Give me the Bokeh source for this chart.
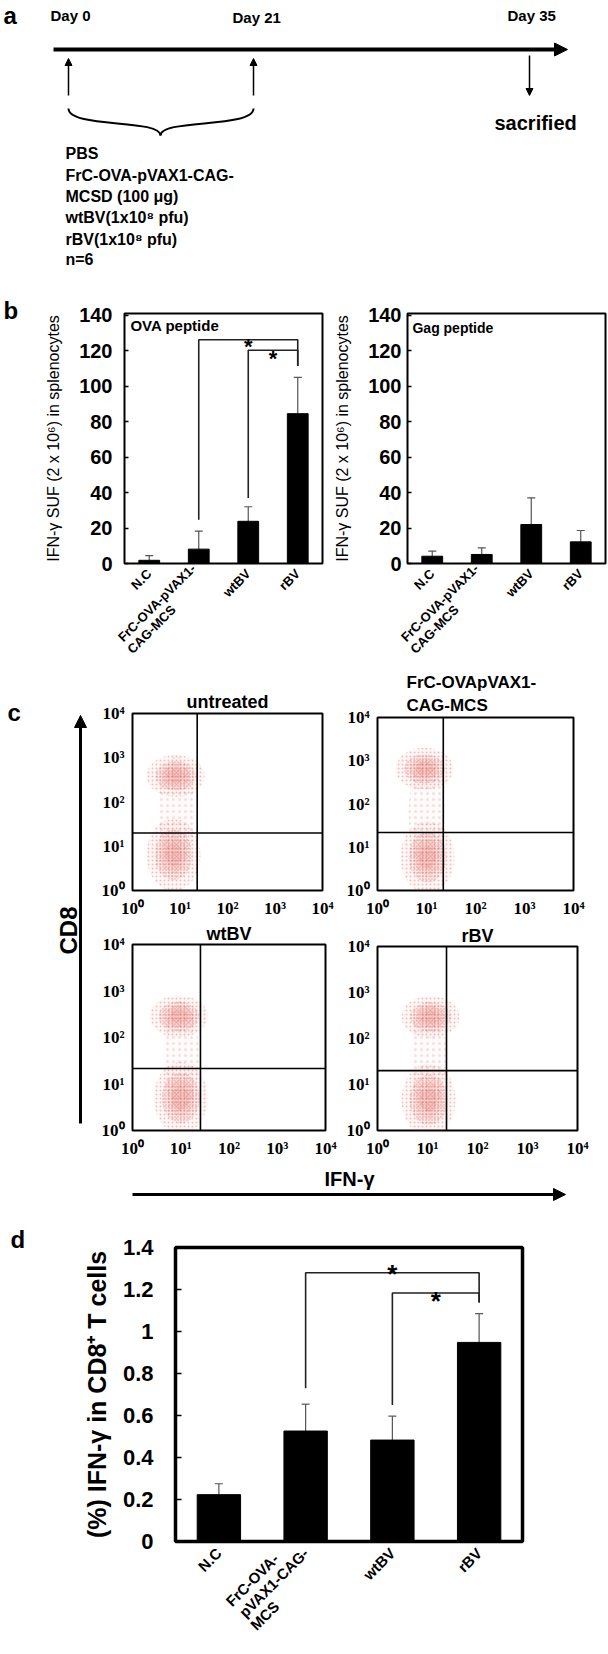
import math
from bokeh.plotting import figure
from bokeh.models import (Range1d, FactorRange, Arrow, NormalHead, Span, Title,
                          FixedTicker, CustomJSTickFormatter)
from bokeh.layouts import row, column
from bokeh.embed import file_html
from bokeh.resources import INLINE
from bokeh.core.properties import value

SANS = "Liberation Sans"
SERIF = "Liberation Serif"
NB = "\u00a0"   # non-breaking space: keeps multi-line tick labels left-aligned

# ---------------- data ----------------
timeline_labels = ["Day 0", "Day 21", "Day 35"]
treatment_lines = ["PBS", "FrC-OVA-pVAX1-CAG-", "MCSD (100 μg)",
                   "wtBV(1x10⁸ pfu)", "rBV(1x10⁸ pfu)", "n=6"]
endpoint_label = "sacrified"

groups_b = ["N.C", "FrC-OVA-pVAX1-\nCAG-MCS" + NB * 12, "wtBV", "rBV"]
groups_d = ["N.C", "FrC-OVA-" + NB * 6 + "\npVAX1-CAG-\nMCS" + NB * 14, "wtBV", "rBV"]

ova_mean = [1.8, 8.1, 23.8, 84.5]
ova_err = [2.6, 10.2, 8.2, 20.5]
gag_mean = [4.1, 5.1, 22.0, 12.2]
gag_err = [2.9, 3.7, 15.0, 6.4]
b_ticks = [0, 20, 40, 60, 80, 100, 120, 140]
b_ylabel = "IFN-γ SUF (2 x 10⁶) in splenocytes"
ova_title = "OVA peptide"
gag_title = "Gag peptide"

sig_from = [1, 2]          # group index where each bracket starts
sig_to = [3, 3]            # group index where each bracket ends
ova_sig_start = [24.7, 37.0]
ova_sig_top = [126.2, 120.3]
ova_sig_end = [111.4, 111.4]
ova_star_y = [129.5, 122.9]

cd8_mean = [0.223, 0.526, 0.483, 0.948]
cd8_err = [0.052, 0.128, 0.114, 0.137]
d_ticks = [0, 0.2, 0.4, 0.6, 0.8, 1.0, 1.2, 1.4]
d_ylabel = "(%) IFN-γ in CD8⁺ T cells"
cd8_sig_start = [0.73, 0.65]
cd8_sig_top = [1.28, 1.183]
cd8_sig_end = [1.138, 1.138]
cd8_star_y = [1.346, 1.218]

flow_titles = [["untreated"], ["FrC-OVApVAX1-", "CAG-MCS"], ["wtBV"], ["rBV"]]
flow_ticks = [1, 10, 100, 1000, 10000]
gate_x = [23, 22, 25.6, 24]
gate_y = [20, 22, 21.5, 20]
cd8hi_x = [8.1, 9.1, 9.1, 11.5]
cd8hi_y = [390, 650, 285, 295]
cd8lo_x = [7.3, 10.5, 10.0, 10.5]
cd8lo_y = [6.4, 5.9, 5.0, 4.6]
sparse_x = [8.5, 10.0, 10.0, 10.5]
sparse_y = [60, 60, 40, 40]
cd8_label = "CD8"
ifn_label = "IFN-γ"
panel_letters = ["a", "b", "c", "d"]


# ---------------- helpers ----------------
def make_fig(ox, oy, w, h, fl, fr, ft, fb, **kw):
    return figure(width=w, height=h, output_backend="svg", toolbar_location=None,
                  title=None, min_border_left=fl - ox, min_border_right=ox + w - fr,
                  min_border_top=ft - oy, min_border_bottom=oy + h - fb,
                  frame_align=False, align="start", **kw)


def canvas_fig(ox, oy, w, h):
    p = figure(width=w, height=h, frame_width=w, frame_height=h,
               output_backend="svg", toolbar_location=None, title=None,
               min_border=0, x_range=Range1d(ox, ox + w), y_range=Range1d(oy + h, oy),
               x_axis_location=None, y_axis_location=None, align="start",
               frame_align=False)
    p.outline_line_color = None
    p.grid.visible = False
    return p


def txt(p, xs, ys, texts, size, align="left", baseline="middle", style="bold",
        angle=0, font=SANS):
    p.text(x=xs, y=ys, text=texts, text_font=value(font), text_font_style=style,
           text_font_size=size, text_align=align, text_baseline=baseline,
           angle=angle, text_color="black")


def letter_title(p, letter, offset, standoff):
    p.add_layout(Title(text=letter, align="left", offset=offset, standoff=standoff,
                       text_font=SANS, text_font_style="bold", text_font_size="24px",
                       text_color="black"), "above")


def bar_fig(ox, oy, w, h, fl, fr, ft, fb, factors, ymax, means, errs, ticks, tick_px,
            tick_standoff, ylabel, ylabel_px, ylabel_style, ylabel_standoff,
            outline_w, bar_w, tick_in, xlab_px, xlab_standoff, fmt=None):
    p = make_fig(ox, oy, w, h, fl, fr, ft, fb,
                 x_range=FactorRange(factors=factors, range_padding=0),
                 y_range=Range1d(0, ymax))
    p.grid.visible = False
    p.outline_line_color = "black"
    p.outline_line_width = outline_w
    ax = p.yaxis[0]
    ax.ticker = FixedTicker(ticks=ticks)
    if fmt is not None:
        ax.formatter = fmt
    ax.major_label_text_font = SANS
    ax.major_label_text_font_style = "bold"
    ax.major_label_text_font_size = f"{tick_px}px"
    ax.major_label_text_color = "black"
    ax.major_label_standoff = tick_standoff
    ax.major_tick_out = 0
    ax.major_tick_in = tick_in
    ax.major_tick_line_color = "black"
    ax.major_tick_line_width = 1.5
    ax.minor_tick_line_color = None
    ax.axis_line_color = None
    ax.axis_label = ylabel
    ax.axis_label_text_font = SANS
    ax.axis_label_text_font_style = ylabel_style
    ax.axis_label_text_font_size = f"{ylabel_px}px"
    ax.axis_label_text_color = "black"
    ax.axis_label_standoff = ylabel_standoff
    xa = p.xaxis[0]
    xa.major_label_orientation = math.pi / 4
    xa.major_label_text_font = SANS
    xa.major_label_text_font_style = "bold"
    xa.major_label_text_font_size = f"{xlab_px}px"
    xa.major_label_text_line_height = 1.0
    xa.major_label_text_color = "black"
    xa.major_label_standoff = xlab_standoff
    xa.axis_line_color = None
    xa.major_tick_line_color = None
    xa.minor_tick_line_color = None
    upper = [m + e for m, e in zip(means, errs)]
    p.segment(x0=factors, y0=means, x1=factors, y1=upper, line_color="#555555", line_width=1.2)
    p.scatter(x=factors, y=upper, marker="dash", size=8, line_color="#555555", line_width=1.2)
    p.vbar(x=factors, top=means, width=bar_w, fill_color="black", line_color="black")
    return p


def add_sig(p, starts, tops, ends, star_y, star_px, ppu):
    xs, ys = [], []
    for f, t, s, tp, e in zip(sig_from, sig_to, starts, tops, ends):
        xs.append([f + 0.5, f + 0.5, t + 0.5, t + 0.5])
        ys.append([s, tp, tp, e])
    p.multi_line(xs=xs, ys=ys, line_color="#222222", line_width=1.6)
    sx = [(f + t) / 2 + 0.5 for f, t in zip(sig_from, sig_to)]
    off = 0.58 * star_px / ppu
    txt(p, sx, [y - off for y in star_y], ["*"] * len(sx), f"{star_px}px",
        align="center", baseline="alphabetic")


# ---------------- panel a ----------------
fa = canvas_fig(0, 0, 608, 295)
txt(fa, [3], [15], [panel_letters[0]], "24px", baseline="alphabetic")
txt(fa, [50, 232, 507], [15, 17, 15], timeline_labels, "15px")
fa.add_layout(Arrow(end=NormalHead(size=13, fill_color="black", line_color="black"),
                    x_start=53, y_start=49, x_end=567, y_end=49, line_width=4,
                    line_color="black"))
for xa_ in (68, 253):
    fa.add_layout(Arrow(end=NormalHead(size=7, fill_color="black", line_color="black"),
                        x_start=xa_, y_start=95, x_end=xa_, y_end=58, line_width=1.5,
                        line_color="black"))
fa.add_layout(Arrow(end=NormalHead(size=7, fill_color="black", line_color="black"),
                    x_start=529, y_start=55, x_end=529, y_end=95, line_width=1.5,
                    line_color="black"))
# curly brace
fa.bezier(x0=[68, 160], y0=[108, 135], x1=[160, 253], y1=[135, 108],
          cx0=[68, 160], cy0=[128, 118], cx1=[160, 253], cy1=[118, 128],
          line_color="black", line_width=2)
txt(fa, [494], [122], [endpoint_label], "20px")
txt(fa, [65] * 6, [153, 175, 196, 217, 239, 259], treatment_lines, "16px")

# ---------------- panel b ----------------
fb1 = bar_fig(0, 295, 330, 375, 124, 322, 313, 568, groups_b, 141, ova_mean, ova_err,
              b_ticks, 20, 12, b_ylabel, 16, "normal", 14, 2, 0.42, 4, 13, 2)
add_sig(fb1, ova_sig_start, ova_sig_top, ova_sig_end, ova_star_y, 22, 255 / 141)
txt(fb1, [0.12], [134.5], [ova_title], "15px")
letter_title(fb1, panel_letters[1], 3 - 124, -20)

fb2 = bar_fig(330, 295, 278, 375, 407, 605, 313, 563, groups_b, 141, gag_mean, gag_err,
              b_ticks, 20, 6, b_ylabel, 16, "normal", 14, 2, 0.42, 4, 13, 2)
txt(fb2, [0.1], [133], [gag_title], "14px")

# ---------------- panel c ----------------
SUPJS = """
const s = ["\\u2070", "\\u00b9", "\\u00b2", "\\u00b3", "\\u2074"];
return "10" + s[Math.round(Math.log(tick) / Math.LN10)];
"""
RED = "#d8332c"


def flow_fig(ox, oy, w, h, fl, fr, ft, fb, k, title_px, title_align, title_offset,
             title_standoffs):
    p = make_fig(ox, oy, w, h, fl, fr, ft, fb, x_axis_type="log", y_axis_type="log",
                 x_range=Range1d(1, 1e4), y_range=Range1d(1, 1e4))
    p.grid.visible = False
    p.outline_line_color = "black"
    p.outline_line_width = 2
    for ax in (p.xaxis[0], p.yaxis[0]):
        ax.ticker = FixedTicker(ticks=flow_ticks)
        ax.formatter = CustomJSTickFormatter(code=SUPJS)
        ax.major_label_text_font = SERIF
        ax.major_label_text_font_style = "bold"
        ax.major_label_text_font_size = "17px"
        ax.major_label_text_color = "black"
        ax.major_label_standoff = 2
        ax.major_tick_line_color = None
        ax.minor_tick_line_color = None
        ax.axis_line_color = None
    # sparse cells between the two populations
    p.ellipse(x=[sparse_x[k]], y=[sparse_y[k]], width=36, height=110,
              width_units="screen", height_units="screen",
              fill_color=RED, fill_alpha=0.015, line_color=None,
              hatch_pattern="dot", hatch_color=RED, hatch_alpha=0.15, hatch_scale=6)
    for cx, cy, (W0, H0) in [(cd8hi_x[k], cd8hi_y[k], (58, 42)),
                             (cd8lo_x[k], cd8lo_y[k], (54, 72))]:
        p.ellipse(x=[cx], y=[cy], width=W0, height=H0,
                  width_units="screen", height_units="screen",
                  fill_color=RED, fill_alpha=0.03, line_color=None,
                  hatch_pattern="dot", hatch_color=RED, hatch_alpha=0.3, hatch_scale=4)
        p.ellipse(x=[cx], y=[cy], width=W0 * 0.7, height=H0 * 0.7,
                  width_units="screen", height_units="screen",
                  fill_color=RED, fill_alpha=0.06, line_color=None,
                  hatch_pattern="dot", hatch_color=RED, hatch_alpha=0.45, hatch_scale=3)
        for f in (0.5, 0.32):
            p.ellipse(x=[cx], y=[cy], width=W0 * f, height=H0 * f,
                      width_units="screen", height_units="screen",
                      fill_color=RED, fill_alpha=0.09, line_color=None)
    p.add_layout(Span(location=gate_x[k], dimension="height", line_color="black",
                      line_width=1.6))
    p.add_layout(Span(location=gate_y[k], dimension="width", line_color="black",
                      line_width=1.6))
    # titles: first element is the line nearest to the frame
    for t, so in zip(reversed(flow_titles[k]), title_standoffs):
        p.add_layout(Title(text=t, align=title_align, offset=title_offset, standoff=so,
                           text_font=SANS, text_font_style="bold",
                           text_font_size=f"{title_px}px", text_color="black"), "above")
    return p


c1 = flow_fig(98, 670, 242, 250, 128, 322, 713, 897, 0, 18, "center", 5, [4])
c2 = flow_fig(340, 670, 268, 250, 377, 573, 716, 898, 1, 17, "left", 29, [5, 0])
c3 = flow_fig(98, 920, 242, 240, 129, 325, 944, 1133, 2, 18, "center", 0, [1])
c4 = flow_fig(340, 920, 268, 240, 377, 577, 946, 1134, 3, 18, "center", -2, [1])

cl = canvas_fig(0, 670, 98, 540)
txt(cl, [7], [712], [panel_letters[2]], "24px", baseline="alphabetic")
cl.add_layout(Arrow(end=NormalHead(size=12, fill_color="black", line_color="black"),
                    x_start=80, y_start=1123, x_end=80, y_end=715, line_width=3,
                    line_color="black"))
txt(cl, [68], [930], [cd8_label], "24px", align="center", angle=math.pi / 2)

cb = canvas_fig(98, 1160, 510, 50)
txt(cb, [349], [1178], [ifn_label], "20px", align="center")
cb.add_layout(Arrow(end=NormalHead(size=12, fill_color="black", line_color="black"),
                    x_start=132, y_start=1194, x_end=565, y_end=1194, line_width=3,
                    line_color="black"))

# ---------------- panel d ----------------
dfmt = CustomJSTickFormatter(code="return String(Math.round(tick * 10) / 10);")
fd = bar_fig(0, 1210, 608, 444, 175, 522, 1247, 1542, groups_d, 1.4, cd8_mean, cd8_err,
             d_ticks, 22, 22, d_ylabel, 25, "bold", 9, 3.5, 0.5, 6, 15, 3, fmt=dfmt)
add_sig(fd, cd8_sig_start, cd8_sig_top, cd8_sig_end, cd8_star_y, 26, 295 / 1.4)
letter_title(fd, panel_letters[3], 10 - 175, -10)

layout = column(fa, row(fb1, fb2),
                row(cl, column(row(c1, c2), row(c3, c4), cb)),
                fd)

with open("out.html", "w", encoding="utf-8") as f:
    f.write(file_html(layout, INLINE))
